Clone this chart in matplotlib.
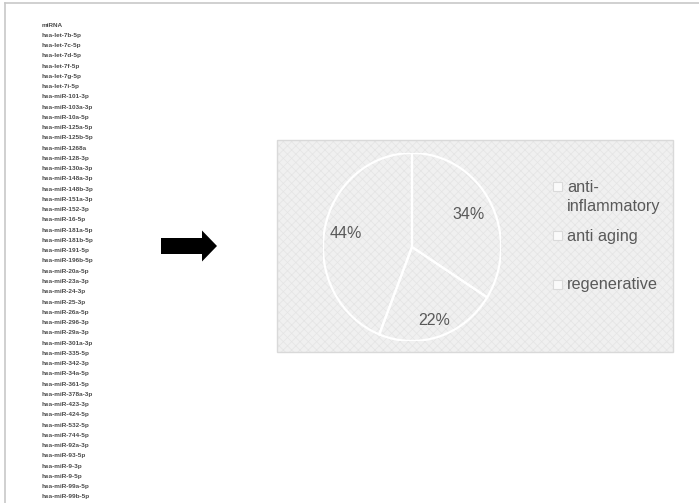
import matplotlib
matplotlib.use("Agg")
import matplotlib.pyplot as plt
from matplotlib.patches import FancyArrow, Rectangle, Wedge
import numpy as np

plt.rcParams['font.family'] = ['Liberation Sans', 'DejaVu Sans']
plt.rcParams['hatch.linewidth'] = 0.5

header = "miRNA"
mirnas = [
    "hsa-let-7b-5p", "hsa-let-7c-5p", "hsa-let-7d-5p", "hsa-let-7f-5p",
    "hsa-let-7g-5p", "hsa-let-7i-5p", "hsa-miR-101-3p", "hsa-miR-103a-3p",
    "hsa-miR-10a-5p", "hsa-miR-125a-5p", "hsa-miR-125b-5p", "hsa-miR-1268a",
    "hsa-miR-128-3p", "hsa-miR-130a-3p", "hsa-miR-148a-3p", "hsa-miR-148b-3p",
    "hsa-miR-151a-3p", "hsa-miR-152-3p", "hsa-miR-16-5p", "hsa-miR-181a-5p",
    "hsa-miR-181b-5p", "hsa-miR-191-5p", "hsa-miR-196b-5p", "hsa-miR-20a-5p",
    "hsa-miR-23a-3p", "hsa-miR-24-3p", "hsa-miR-25-3p", "hsa-miR-26a-5p",
    "hsa-miR-296-3p", "hsa-miR-29a-3p", "hsa-miR-301a-3p", "hsa-miR-335-5p",
    "hsa-miR-342-3p", "hsa-miR-34a-5p", "hsa-miR-361-5p", "hsa-miR-378a-3p",
    "hsa-miR-423-3p", "hsa-miR-424-5p", "hsa-miR-532-5p", "hsa-miR-744-5p",
    "hsa-miR-92a-3p", "hsa-miR-93-5p", "hsa-miR-9-3p", "hsa-miR-9-5p",
    "hsa-miR-99a-5p", "hsa-miR-99b-5p",
]

categories = ["anti-\ninflammatory", "anti aging", "regenerative"]
shares = [34, 22, 44]

FILL = '#f0f0f0'
HATCH = '#e4e4e4'

W, H = 699, 503
fig = plt.figure(figsize=(W / 100, H / 100), dpi=100)
fig.patch.set_facecolor('white')

# full-figure canvas in pixel coords
base = fig.add_axes([0, 0, 1, 1])
base.set_xlim(0, W)
base.set_ylim(H, 0)
base.axis('off')

# page borders (top and left)
base.plot([5, W], [3, 3], color='#c8c8c8', lw=1.2)
base.plot([5, 5], [3, H], color='#c8c8c8', lw=1.2)

# miRNA list
rows = [header] + mirnas
y0, dy = 25, 10.26
for i, name in enumerate(rows):
    base.text(42, y0 + i * dy, name, fontsize=4.6, color='#4a4a4a',
              fontweight='bold', va='center', ha='left')

# arrow
base.add_patch(FancyArrow(161, 246, 56, 0, width=16, head_width=31,
                          head_length=15, length_includes_head=True,
                          color='black', lw=0))

# chart box (hatched fill + separate border)
bx0, by0, bx1, by1 = 277, 140, 673, 352
base.add_patch(Rectangle((bx0, by0), bx1 - bx0, by1 - by0, facecolor=FILL,
                         edgecolor=HATCH, lw=0, hatch='xxxx'))
base.add_patch(Rectangle((bx0, by0), bx1 - bx0, by1 - by0, fill=False,
                         edgecolor='#d9d9d9', lw=1.0))

# pie
cx, cy, rx, ry = 412, 247, 89, 94
pax = fig.add_axes([(cx - rx) / W, 1 - (cy + ry) / H, 2 * rx / W, 2 * ry / H])
pax.set_facecolor('none')
wedges, _ = pax.pie(shares, startangle=90, counterclock=False,
                    colors=[FILL] * 3, radius=1.0,
                    wedgeprops=dict(edgecolor=HATCH, linewidth=0, hatch='xxxx'))
for w in wedges:
    pax.add_patch(Wedge(w.center, w.r, w.theta1, w.theta2, fill=False,
                        edgecolor='white', lw=1.6))
pax.set_xlim(-1.0, 1.0)
pax.set_ylim(-1.0, 1.0)
pax.set_aspect('auto')
pax.axis('off')

dists = [0.72, 0.82, 0.76]
for w, v, d in zip(wedges, shares, dists):
    ang = np.deg2rad((w.theta1 + w.theta2) / 2)
    pax.text(d * np.cos(ang), d * np.sin(ang), f"{v}%", fontsize=11.5,
             color='#595959', ha='center', va='center')

# legend
leg_y = [197, 236, 285]
for lab, ly in zip(categories, leg_y):
    first_y = ly - 10 if "\n" in lab else ly
    base.add_patch(Rectangle((553, first_y - 5), 9, 9, facecolor='#fafafa',
                             edgecolor='#dadada', lw=0.8))
    base.text(567, ly, lab, fontsize=11.7, color='#595959', ha='left',
              va='center', linespacing=1.35)

fig.savefig("out.png", dpi=100, facecolor='white')
